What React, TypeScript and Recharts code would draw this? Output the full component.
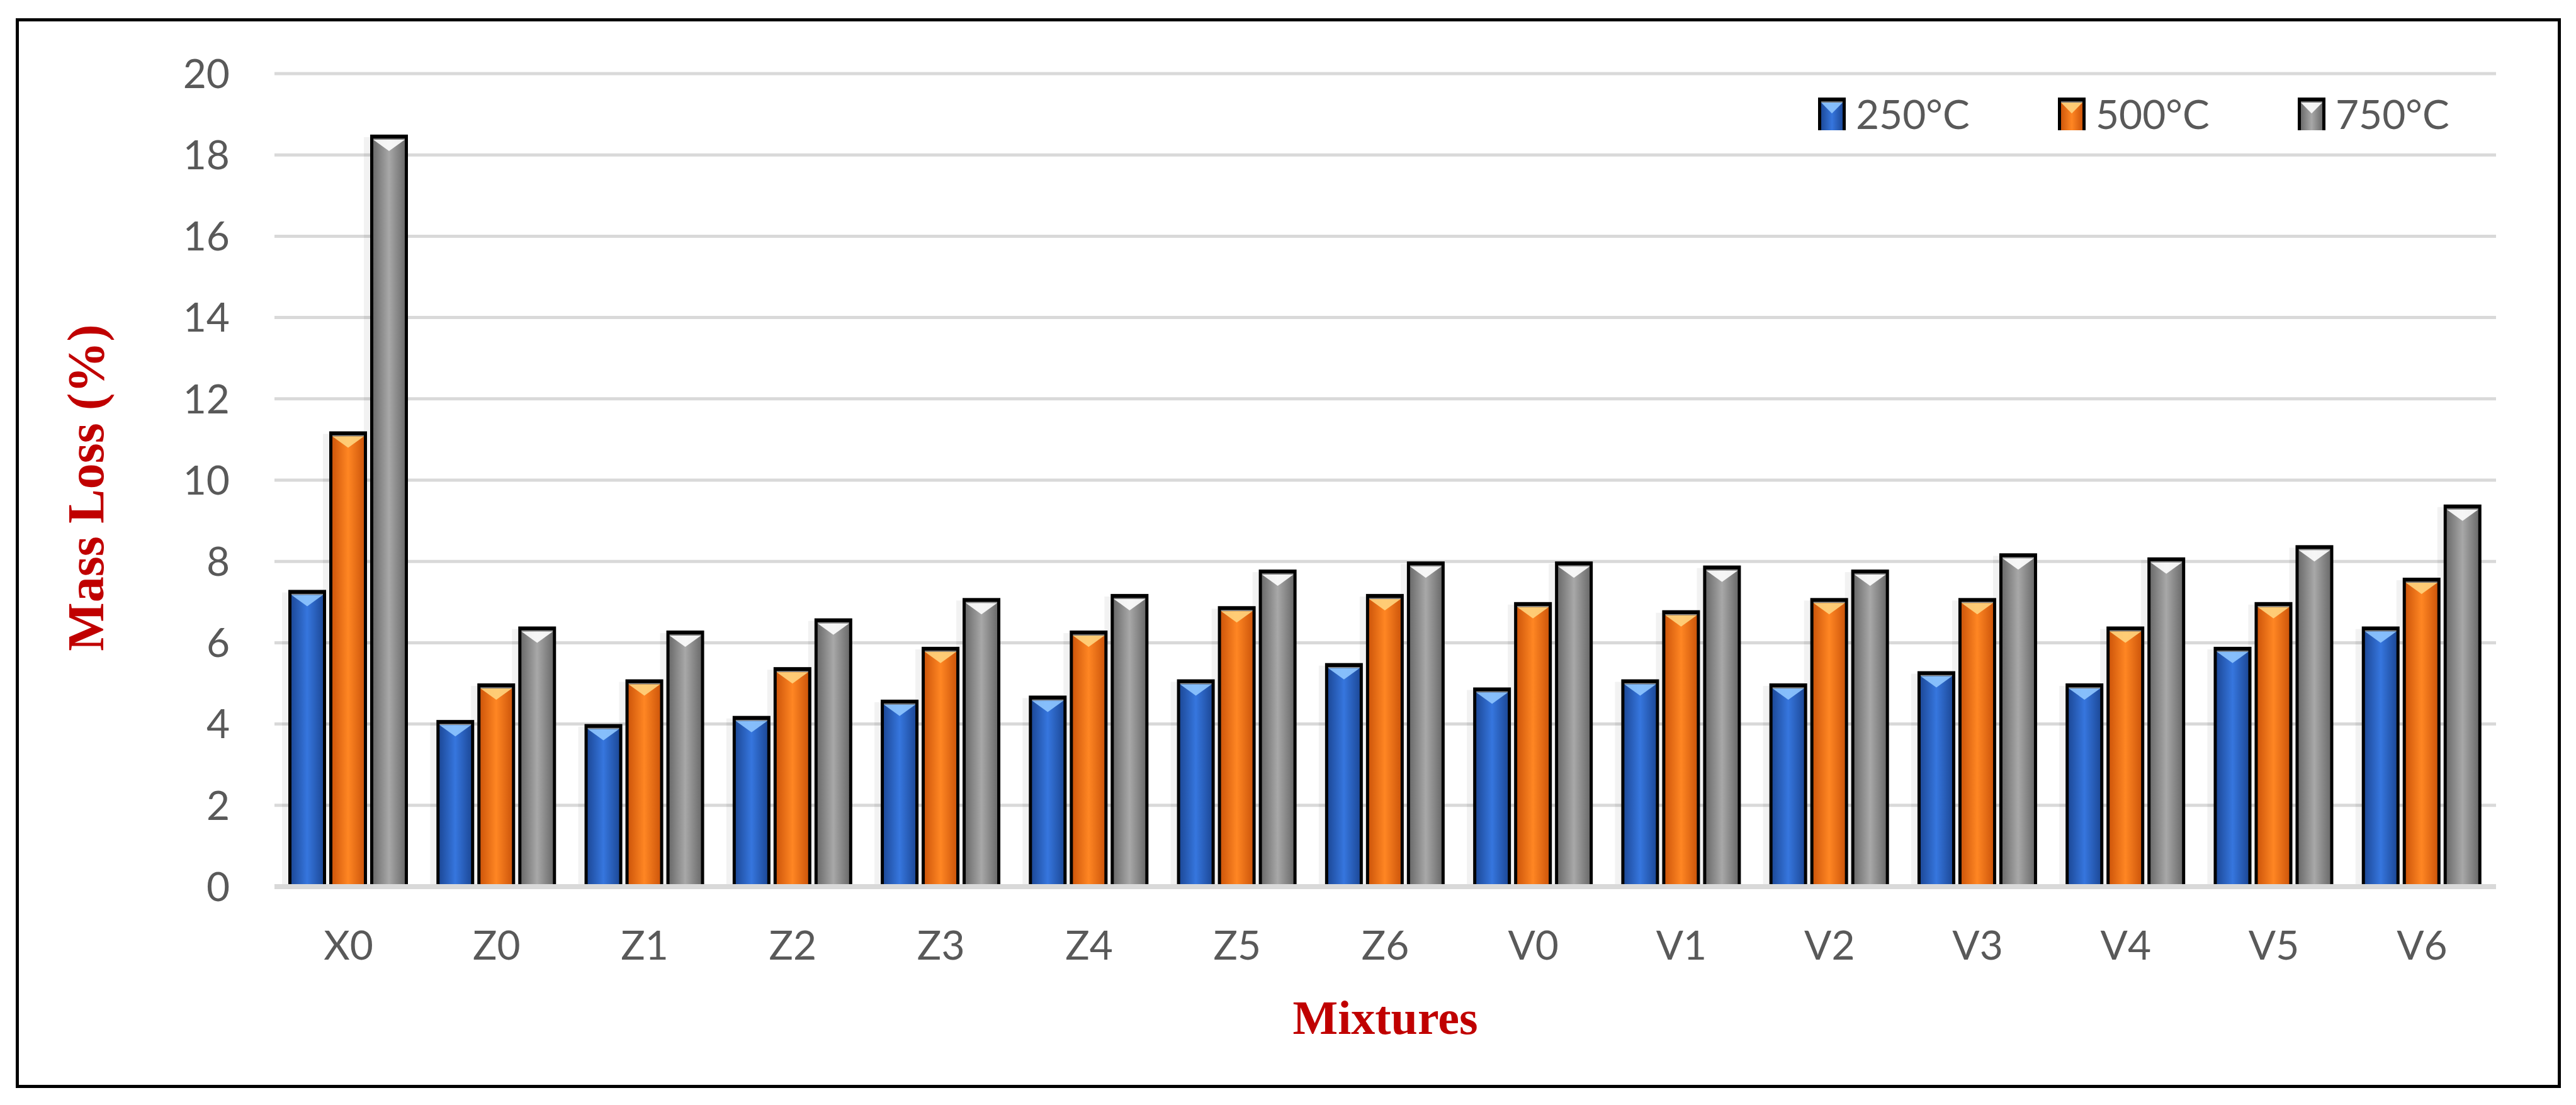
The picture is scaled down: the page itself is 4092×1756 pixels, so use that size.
import React from "react";
import { BarChart, Bar, XAxis, YAxis, CartesianGrid, Legend } from "recharts";

const categories = ["X0", "Z0", "Z1", "Z2", "Z3", "Z4", "Z5", "Z6", "V0", "V1", "V2", "V3", "V4", "V5", "V6"];
const loss250 = [7.3, 4.1, 4.0, 4.2, 4.6, 4.7, 5.1, 5.5, 4.9, 5.1, 5.0, 5.3, 5.0, 5.9, 6.4];
const loss500 = [11.2, 5.0, 5.1, 5.4, 5.9, 6.3, 6.9, 7.2, 7.0, 6.8, 7.1, 7.1, 6.4, 7.0, 7.6];
const loss750 = [18.5, 6.4, 6.3, 6.6, 7.1, 7.2, 7.8, 8.0, 8.0, 7.9, 7.8, 8.2, 8.1, 8.4, 9.4];
const seriesNames = ["250°C", "500°C", "750°C"];
const yTicks = [0, 2, 4, 6, 8, 10, 12, 14, 16, 18, 20];

const data = categories.map((name, i) => ({
  name,
  t250: loss250[i],
  t500: loss500[i],
  t750: loss750[i],
}));

// edge / middle / highlight colours for the bevelled look
const PALETTE = [
  { edge: "#1d4a9a", mid: "#3676de", light: "#8fc6ff" },
  { edge: "#cf570b", mid: "#ff8623", light: "#ffd47e" },
  { edge: "#6c6c6c", mid: "#a8a8a8", light: "#ffffff" },
];

const TICK_FONT = "Lato, 'Open Sans', sans-serif";
const TITLE_FONT = "'Liberation Serif', 'Times New Roman', serif";

function BevelRect({ x, y, width, height, c, id }) {
  if (!height || height <= 0) return null;
  const b = 5;
  const top = 8;
  const tri = Math.min(18, height / 3);
  return (
    <g>
      <defs>
        <linearGradient id={id} x1="0" y1="0" x2="1" y2="0">
          <stop offset="0%" stopColor={c.edge} />
          <stop offset="50%" stopColor={c.mid} />
          <stop offset="100%" stopColor={c.edge} />
        </linearGradient>
      </defs>
      <rect x={x - 10} y={y + 4} width={10} height={height - 4} fill="#000" opacity={0.05} />
      <rect x={x} y={y} width={width} height={height} fill="#000" />
      <rect x={x + b} y={y + top} width={width - 2 * b} height={height - top} fill={`url(#${id})`} />
      <line x1={x + b} y1={y + top - 1} x2={x + width - b} y2={y + top - 1} stroke="#ffffff" strokeOpacity={0.6} strokeWidth={1.5} />
      <polygon
        points={`${x + b},${y + top} ${x + width - b},${y + top} ${x + width / 2},${y + top + tri}`}
        fill={c.light}
        opacity={0.9}
      />
    </g>
  );
}

const makeShape = (si) => (props) => (
  <BevelRect {...props} c={PALETTE[si]} id={`grad-${si}-${props.index}`} />
);

function LegendContent() {
  return (
    <div style={{ display: "flex", alignItems: "center" }}>
      {seriesNames.map((n, i) => (
        <div key={n} style={{ display: "flex", alignItems: "center", width: 381 }}>
          <svg width={44} height={52} style={{ marginRight: 16 }}>
            <BevelRect x={0} y={0} width={44} height={52} c={PALETTE[i]} id={`leg-${i}`} />
          </svg>
          <span style={{ fontFamily: TICK_FONT, fontSize: 64, color: "#595959", lineHeight: "52px" }}>{n}</span>
        </div>
      ))}
    </div>
  );
}

export default function App() {
  return (
    <div style={{ position: "absolute", left: 0, top: 0, width: 4092, height: 1756, background: "#fff" }}>
      <div
        style={{
          position: "absolute",
          left: 25,
          top: 29,
          width: 4043,
          height: 1700,
          border: "5px solid #000",
          boxSizing: "border-box",
        }}
      />
      <div style={{ position: "absolute", left: 0, top: 0 }}>
        <BarChart
          width={4092}
          height={1756}
          data={data}
          margin={{ top: 117, right: 127, bottom: 317, left: 0 }}
          barCategoryGap={22}
          barGap={5}
        >
          <CartesianGrid vertical={false} stroke="#d9d9d9" strokeWidth={5} />
          <XAxis
            dataKey="name"
            interval={0}
            tickSize={0}
            tickMargin={71}
            axisLine={{ stroke: "#d9d9d9", strokeWidth: 8 }}
            tick={{ fill: "#595959", fontSize: 64, fontFamily: TICK_FONT }}
            height={30}
            label={{
              content: ({ viewBox }) => (
                <text
                  x={viewBox.x + viewBox.width / 2}
                  y={viewBox.y + 234}
                  textAnchor="middle"
                  fill="#c00000"
                  fontFamily={TITLE_FONT}
                  fontWeight="bold"
                  fontSize={76}
                >
                  Mixtures
                </text>
              ),
            }}
          />
          <YAxis
            width={436}
            domain={[0, 20]}
            ticks={yTicks}
            interval={0}
            tickSize={0}
            tickMargin={71}
            axisLine={false}
            tickLine={false}
            tick={{ fill: "#595959", fontSize: 64, fontFamily: TICK_FONT }}
            label={{
              content: ({ viewBox }) => {
                const cx = 164;
                const cy = viewBox.y + viewBox.height / 2 + 12;
                return (
                  <text
                    x={cx}
                    y={cy}
                    transform={`rotate(-90, ${cx}, ${cy})`}
                    textAnchor="middle"
                    fill="#c00000"
                    fontFamily={TITLE_FONT}
                    fontWeight="bold"
                    fontSize={82}
                  >
                    Mass Loss (%)
                  </text>
                );
              },
            }}
          />
          <Legend
            verticalAlign="middle"
            align="center"
            layout="horizontal"
            content={() => <LegendContent />}
            wrapperStyle={{ position: "absolute", top: 155, left: 2888, width: 1150, height: 52 }}
          />
          <Bar dataKey="t250" name={seriesNames[0]} fill={PALETTE[0].mid} shape={makeShape(0)} isAnimationActive={false} />
          <Bar dataKey="t500" name={seriesNames[1]} fill={PALETTE[1].mid} shape={makeShape(1)} isAnimationActive={false} />
          <Bar dataKey="t750" name={seriesNames[2]} fill={PALETTE[2].mid} shape={makeShape(2)} isAnimationActive={false} />
        </BarChart>
      </div>
    </div>
  );
}
